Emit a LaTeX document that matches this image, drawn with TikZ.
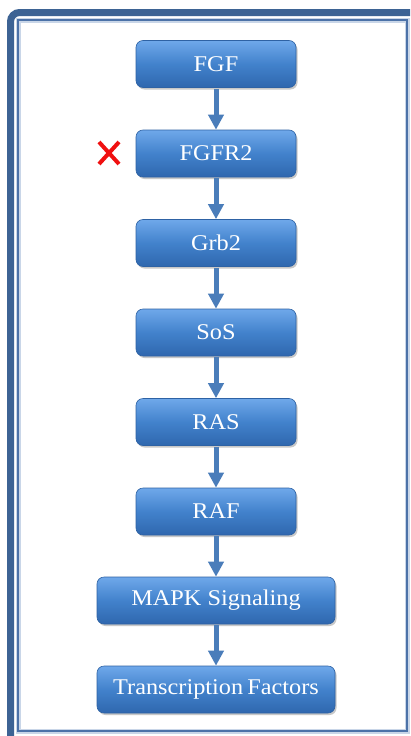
\documentclass[tikz,border=0pt]{standalone}
\usepackage{fontspec}
\newfontfamily\boxfont[FakeStretch=1.08]{Liberation Serif}
\usetikzlibrary{arrows.meta,shadows}
\definecolor{frameblue}{HTML}{3D6394}
\definecolor{framelight}{HTML}{C9D6E8}
\definecolor{innerblue}{HTML}{4C72A8}
\definecolor{boxtop}{HTML}{6FA8EA}
\definecolor{boxmid}{HTML}{4282CC}
\definecolor{boxbot}{HTML}{2F67AE}
\definecolor{boxedge}{HTML}{2E62A4}
\definecolor{arrowblue}{HTML}{4A7DBA}
\definecolor{crossred}{HTML}{F01010}
\tikzset{
  pathbox/.style={rounded corners=7pt, minimum height=47pt, inner sep=0pt,
    top color=boxtop, bottom color=boxbot, middle color=boxmid,
    draw=boxedge, line width=0.6pt, text=white,
    font=\boxfont\fontsize{22.5}{25}\selectfont,
    drop shadow={shadow xshift=1.5pt, shadow yshift=-2pt, opacity=0.3, fill=black!70}},
  smallbox/.style={pathbox, minimum width=160pt},
  widebox/.style={pathbox, minimum width=238pt},
  flow/.style={draw=arrowblue, line width=5pt, -{Triangle[width=15pt,length=15pt]}, shorten <=1pt},
}
\begin{document}
\begin{tikzpicture}[x=1pt,y=-1pt]
\useasboundingbox (0,0) rectangle (410,736);
\fill[white] (0,0) rectangle (410,736);
\begin{scope}
\clip (0,0) rectangle (410,736);
\draw[frameblue, line width=7pt, rounded corners=9pt] (10.5,12.5) rectangle (440,760);
\end{scope}
\draw[framelight, line width=5pt] (18,20) rectangle (407,731);
\draw[innerblue, line width=2pt] (18,20) rectangle (407,731);

\node[smallbox] (fgf)   at (216,64)    {FGF};
\node[smallbox] (fgfr2) at (216,153.5) {FGFR2};
\node[smallbox] (grb2)  at (216,243)   {Grb2};
\node[smallbox] (sos)   at (216,332.5) {SoS};
\node[smallbox] (ras)   at (216,422)   {RAS};
\node[smallbox] (raf)   at (216,511.5) {RAF};
\node[widebox]  (mapk)  at (216,600.5) {MAPK Signaling};
\node[widebox]  (tf)    at (216,689.5) {Transcription\kern-2pt\ Factors};

\draw[flow] (fgf.south) -- (fgfr2.north);
\draw[flow] (fgfr2.south) -- (grb2.north);
\draw[flow] (grb2.south) -- (sos.north);
\draw[flow] (sos.south) -- (ras.north);
\draw[flow] (ras.south) -- (raf.north);
\draw[flow] (raf.south) -- (mapk.north);
\draw[flow] (mapk.south) -- (tf.north);

\draw[crossred, line width=4pt] (99,142) -- (119,164) (119,142) -- (99,164);
\end{tikzpicture}
\end{document}
